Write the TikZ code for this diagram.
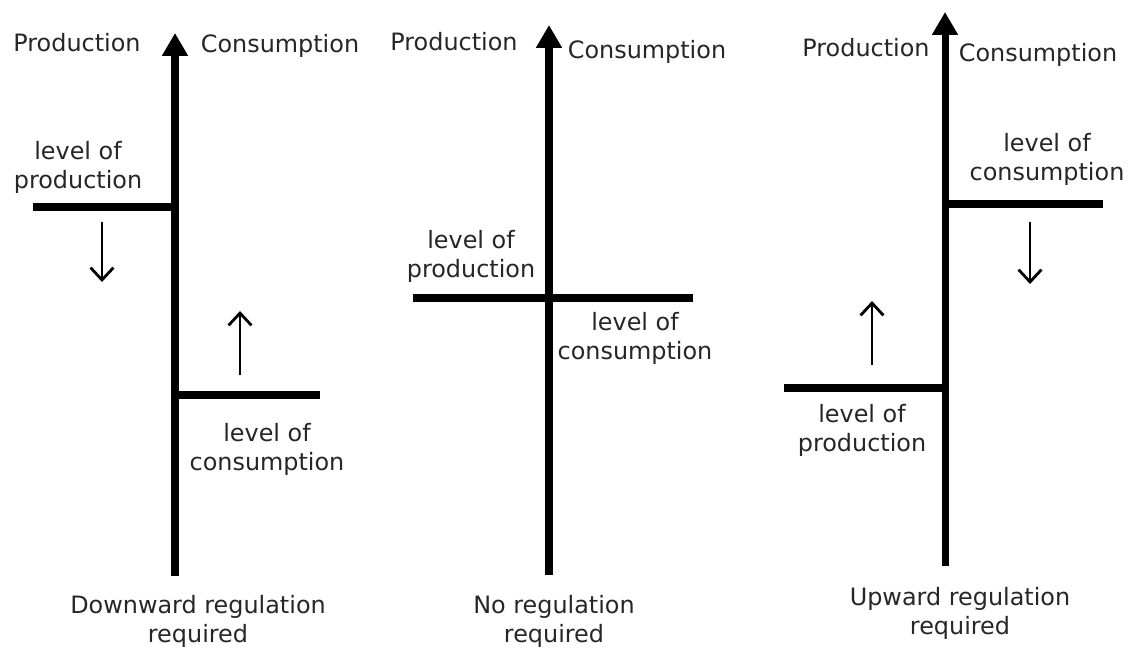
\documentclass[tikz,border=0pt]{standalone}
\usepackage{fontspec}
\setmainfont{DejaVu Sans}
\usetikzlibrary{arrows.meta}
\tikzset{
	mainaxis/.style={line width=4pt,-{Triangle[length=13pt,width=14pt]}},
	levelline/.style={line width=4pt},
	nudge/.style={line width=1.6pt,-{Straight Barb[length=7pt,width=13pt]}},
	lbl/.style={align=center,inner sep=0pt,text=black!85}
}
\begin{document}
\begin{tikzpicture}[x=0.02cm,y=-0.02cm,font=\fontsize{13.6}{16.4}\selectfont]
		\useasboundingbox (0,0) rectangle (1135,647);
		% downward regulation
		\coordinate (A1b) at (175,576);
		\coordinate (A1t) at (175,33);
		\draw [mainaxis] (A1b) -- (A1t);
		\coordinate (P1l) at (33,207);
		\coordinate (P1r) at (175,207);
		\draw [levelline] (P1l) -- (P1r);
		\coordinate (C1l) at (175,395);
		\coordinate (C1r) at (320,395);
		\draw [levelline] (C1l) -- (C1r);
		\coordinate (D1s) at (102,222);
		\coordinate (D1e) at (102,282);
		\draw [nudge] (D1s) -- (D1e);
		\coordinate (U1s) at (240,375);
		\coordinate (U1e) at (240,311);
		\draw [nudge] (U1s) -- (U1e);
		\node [lbl] (prod1) at (77,43) {Production};
		\node [lbl] (cons1) at (280,46) {Consumption};
		\node [lbl] (lp1) at (78,167) {level of\\production};
		\node [lbl] (lc1) at (267,449) {level of\\consumption};
		\node [lbl] (reg1) at (198,621) {Downward regulation\\required};
		
		% no regulation
		\coordinate (A2b) at (549,575);
		\coordinate (A2t) at (549,25);
		\draw [mainaxis] (A2b) -- (A2t);
		\coordinate (L2l) at (413,298);
		\coordinate (L2r) at (693,298);
		\draw [levelline] (L2l) -- (L2r);
		\node [lbl] (prod2) at (454,42) {Production};
		\node [lbl] (cons2) at (647,52) {Consumption};
		\node [lbl] (lp2) at (471,256) {level of\\production};
		\node [lbl] (lc2) at (635,338) {level of\\consumption};
		\node [lbl] (reg2) at (554,621) {No regulation\\required};
		
		% upward regulation
		\coordinate (A3b) at (945,566);
		\coordinate (A3t) at (945,12);
		\draw [mainaxis] (A3b) -- (A3t);
		\coordinate (C3l) at (945,204);
		\coordinate (C3r) at (1103,204);
		\draw [levelline] (C3l) -- (C3r);
		\coordinate (P3l) at (784,388);
		\coordinate (P3r) at (945,388);
		\draw [levelline] (P3l) -- (P3r);
		\coordinate (D3s) at (1030,222);
		\coordinate (D3e) at (1030,284);
		\draw [nudge] (D3s) -- (D3e);
		\coordinate (U3s) at (872,365);
		\coordinate (U3e) at (872,301);
		\draw [nudge] (U3s) -- (U3e);
		\node [lbl] (prod3) at (866,48) {Production};
		\node [lbl] (cons3) at (1038,55) {Consumption};
		\node [lbl] (lc3) at (1047,159) {level of\\consumption};
		\node [lbl] (lp3) at (862,430) {level of\\production};
		\node [lbl] (reg3) at (960,613) {Upward regulation\\required};
\end{tikzpicture}
\end{document}
